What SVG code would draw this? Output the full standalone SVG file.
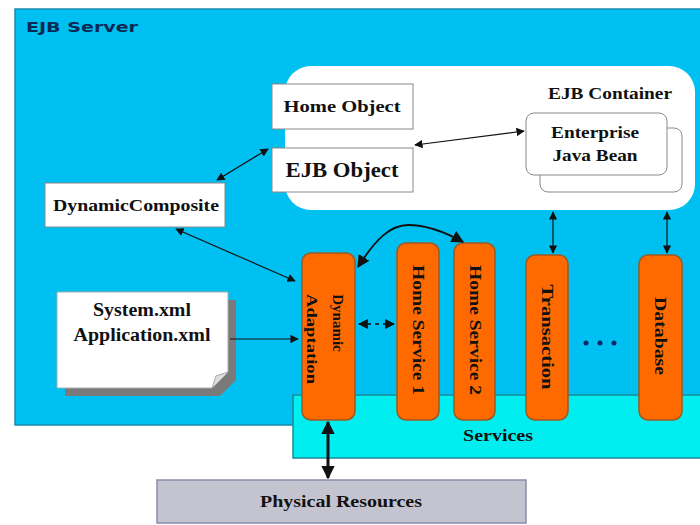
<svg xmlns="http://www.w3.org/2000/svg" width="700" height="525" viewBox="0 0 700 525">
<defs>
<style>
.t{font-family:"Liberation Serif","Times New Roman",serif;font-weight:bold;fill:#111;text-anchor:middle}
.box{fill:#fff;stroke:#888;stroke-width:1}
.col{fill:#ff6a00;stroke:#9a5a20;stroke-width:1.5}
.ln{stroke:#111;fill:none}
</style>
<marker id="ah" viewBox="0 0 10 10" refX="9" refY="5" markerWidth="7" markerHeight="7" orient="auto-start-reverse"><path d="M0,0L10,5L0,10z" fill="#111"/></marker>
<marker id="ahb" viewBox="0 0 10 10" refX="9" refY="5" markerWidth="4.5" markerHeight="4.5" orient="auto-start-reverse"><path d="M0,0L10,5L0,10z" fill="#111"/></marker>
</defs>
<rect width="700" height="525" fill="#fff"/>
<g id="ejb-server">
<rect x="15" y="9" width="700" height="416" fill="#00c0f2" stroke="#1a8ab0" stroke-width="1.5"/>
<text x="26" y="32" font-family="DejaVu Sans,Verdana,sans-serif" font-weight="bold" font-size="14" fill="#0a2a55" textLength="112" lengthAdjust="spacingAndGlyphs">EJB Server</text>
</g>
<g id="services">
<rect x="293" y="395" width="420" height="63" fill="#00eef0" stroke="#1a8a9a" stroke-width="1.5"/>
<text class="t" x="498" y="441" font-size="17" font-weight="normal" textLength="70" lengthAdjust="spacingAndGlyphs">Services</text>
</g>
<g id="ejb-container">
<rect x="285" y="66" width="410" height="144" rx="26" fill="#fff"/>
<text class="t" x="610" y="99" font-size="17" textLength="124" lengthAdjust="spacingAndGlyphs">EJB Container</text>
</g>
<g id="home-object">
<rect class="box" x="272" y="84" width="141" height="45"/>
<text class="t" x="342" y="112" font-size="17" textLength="117" lengthAdjust="spacingAndGlyphs">Home Object</text>
</g>
<g id="ejb-object">
<rect class="box" x="272" y="148" width="141" height="44"/>
<text class="t" x="342" y="177" font-size="20" textLength="113" lengthAdjust="spacingAndGlyphs">EJB Object</text>
</g>
<g id="enterprise-java-bean">
<rect x="540" y="128" width="142" height="64" rx="8" fill="#fff" stroke="#888"/>
<rect x="526" y="113" width="141" height="62" rx="8" fill="#fff" stroke="#888"/>
<text class="t" x="595" y="138" font-size="17" textLength="88" lengthAdjust="spacingAndGlyphs">Enterprise</text>
<text class="t" x="595" y="161" font-size="17" textLength="85" lengthAdjust="spacingAndGlyphs">Java Bean</text>
</g>
<g id="dynamic-composite">
<rect class="box" x="45" y="183" width="180" height="44"/>
<text class="t" x="136" y="211" font-size="17" textLength="166" lengthAdjust="spacingAndGlyphs">DynamicComposite</text>
</g>
<g id="config-files">
<path d="M65,300H236V380L220,396H65z" fill="#7a7a7a"/>
<path d="M57,292H228V372L212,388H57z" fill="#fff" stroke="#aaa"/>
<path d="M212,388L216,376L228,372" fill="#ddd" stroke="#aaa"/>
<text class="t" x="142" y="316" font-size="18" textLength="98" lengthAdjust="spacingAndGlyphs">System.xml</text>
<text class="t" x="142" y="341" font-size="18" textLength="137" lengthAdjust="spacingAndGlyphs">Application.xml</text>
</g>
<g id="dynamic-adaptation">
<rect class="col" x="302" y="253" width="53" height="167" rx="9"/>
<text class="t" font-size="15" transform="translate(333,323) rotate(90)">Dynamic</text>
<text class="t" font-size="15" transform="translate(307,339) rotate(90)" textLength="90" lengthAdjust="spacingAndGlyphs">Adaptation</text>
</g>
<g id="home-service-1">
<rect class="col" x="397" y="243" width="42" height="177" rx="9"/>
<text class="t" font-size="16" transform="translate(413,330) rotate(90)" textLength="130" lengthAdjust="spacingAndGlyphs">Home Service 1</text>
</g>
<g id="home-service-2">
<rect class="col" x="454" y="243" width="41" height="177" rx="9"/>
<text class="t" font-size="16" transform="translate(470,330) rotate(90)" textLength="130" lengthAdjust="spacingAndGlyphs">Home Service 2</text>
</g>
<g id="transaction">
<rect class="col" x="526" y="255" width="42" height="165" rx="9"/>
<text class="t" font-size="16" transform="translate(542,337) rotate(90)" textLength="105" lengthAdjust="spacingAndGlyphs">Transaction</text>
</g>
<g id="database">
<rect class="col" x="639" y="255" width="43" height="165" rx="9"/>
<text class="t" font-size="16" transform="translate(655,336) rotate(90)" textLength="78" lengthAdjust="spacingAndGlyphs">Database</text>
</g>
<g id="ellipsis">
<circle cx="586" cy="343" r="2.5" fill="#0a2a66"/>
<circle cx="600" cy="343" r="2.5" fill="#0a2a66"/>
<circle cx="614" cy="343" r="2.5" fill="#0a2a66"/>
</g>
<g id="physical-resources">
<rect x="157" y="480" width="369" height="43" fill="#c4c4d0" stroke="#8a8aa8" stroke-width="1.5"/>
<text class="t" x="341" y="507" font-size="17" textLength="162" lengthAdjust="spacingAndGlyphs">Physical Resources</text>
</g>
<g id="connectors">
<line class="ln" style="stroke-width:1.2" x1="217" y1="180" x2="268" y2="149" marker-start="url(#ah)" marker-end="url(#ah)"/>
<line class="ln" style="stroke-width:1.2" x1="415" y1="145" x2="524" y2="131" marker-start="url(#ah)" marker-end="url(#ah)"/>
<line class="ln" style="stroke-width:1.2" x1="176" y1="229" x2="295" y2="281" marker-start="url(#ah)" marker-end="url(#ah)"/>
<line class="ln" style="stroke-width:1.2" x1="230" y1="339" x2="298" y2="339" marker-end="url(#ah)"/>
<line class="ln" style="stroke-width:1.4;stroke-dasharray:4,4" x1="359" y1="324" x2="394" y2="324" marker-start="url(#ah)" marker-end="url(#ah)"/>
<path class="ln" style="stroke-width:1.8" d="M358,267C375,240 390,225 408,225C428,225 445,232 463,242" marker-start="url(#ah)" marker-end="url(#ah)"/>
<line class="ln" style="stroke-width:1.2" x1="553" y1="212" x2="553" y2="253" marker-start="url(#ah)" marker-end="url(#ah)"/>
<line class="ln" style="stroke-width:1.2" x1="667" y1="212" x2="667" y2="253" marker-start="url(#ah)" marker-end="url(#ah)"/>
<line class="ln" style="stroke-width:3" x1="328" y1="422" x2="328" y2="478" marker-start="url(#ahb)" marker-end="url(#ahb)"/>
</g>
</svg>
